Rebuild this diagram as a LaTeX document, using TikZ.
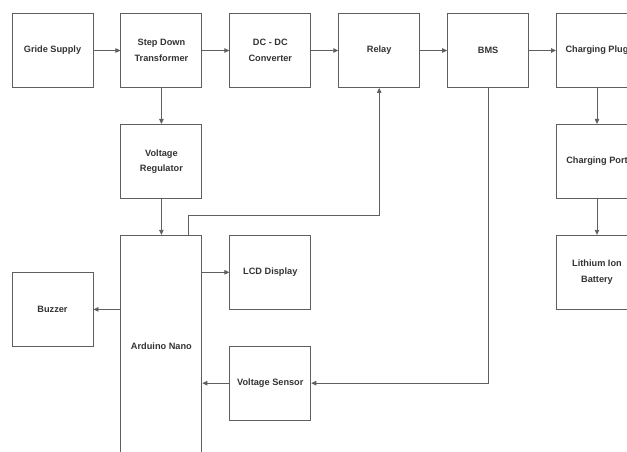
\documentclass[tikz,border=0pt]{standalone}
\usepackage{fontspec}
\setmainfont{Liberation Sans}
\usetikzlibrary{arrows.meta,calc,positioning}
\definecolor{Edge}{HTML}{5F5F5F}
\definecolor{Ink}{HTML}{333333}
\tikzset{block/.style={draw=Edge,line width=.9pt,fill=white,minimum width=81pt,minimum height=74pt,align=center,text=Ink,font=\fontsize{9.2}{15.5}\selectfont\bfseries},flow/.style={-{Triangle[length=5pt,width=4.5pt]},line width=.8pt,draw=Edge}}

\begin{document}
\begin{tikzpicture}[node distance=27pt]
      \useasboundingbox(0,0)rectangle(627pt,451pt);
      \node[block](grid)at(52.5pt,400.5pt){Gride Supply};
      \node[block,right=of grid](step){Step Down\\Transformer};
      \node[block,right=of step](dcdc){DC - DC\\Converter};
      \node[block,right=of dcdc](relay){Relay};
      \node[block,right=of relay](bms){BMS};
      \node[block,right=of bms](plug){Charging Plug};
      \node[block,below=36pt of step](vreg){Voltage\\Regulator};
      \node[block,below=36pt of vreg,minimum height=222pt](nano){Arduino Nano};
      \node[block,below right=0pt and 27pt of nano.north east](lcd){LCD Display};
      \node[block,below=36pt of lcd](vsense){Voltage Sensor};
      \node[block,below=184pt of grid](buzzer){Buzzer};
      \node[block,below=36pt of plug](port){Charging Port};
      \node[block,below=36pt of port](battery){Lithium Ion\\Battery};
      \coordinate(tap)at([xshift=27pt,yshift=19pt]nano.north);
      \draw[flow](grid)--(step);\draw[flow](step)--(dcdc);\draw[flow](dcdc)--(relay);
      \draw[flow](relay)--(bms);\draw[flow](bms)--(plug);
      \draw[flow](step)--(vreg);\draw[flow](vreg)--(nano);
      \draw[flow]([xshift=27pt]nano.north)--(tap)-|(relay.south);
      \draw[flow](lcd.west-|nano.east)--(lcd.west);
      \draw[flow](buzzer.east-|nano.west)--(buzzer.east);
      \draw[flow](bms.south)|-(vsense.east);
      \draw[flow](vsense.west)--(vsense.west-|nano.east);
      \draw[flow](plug)--(port);\draw[flow](port)--(battery);
    \end{tikzpicture}
\end{document}
